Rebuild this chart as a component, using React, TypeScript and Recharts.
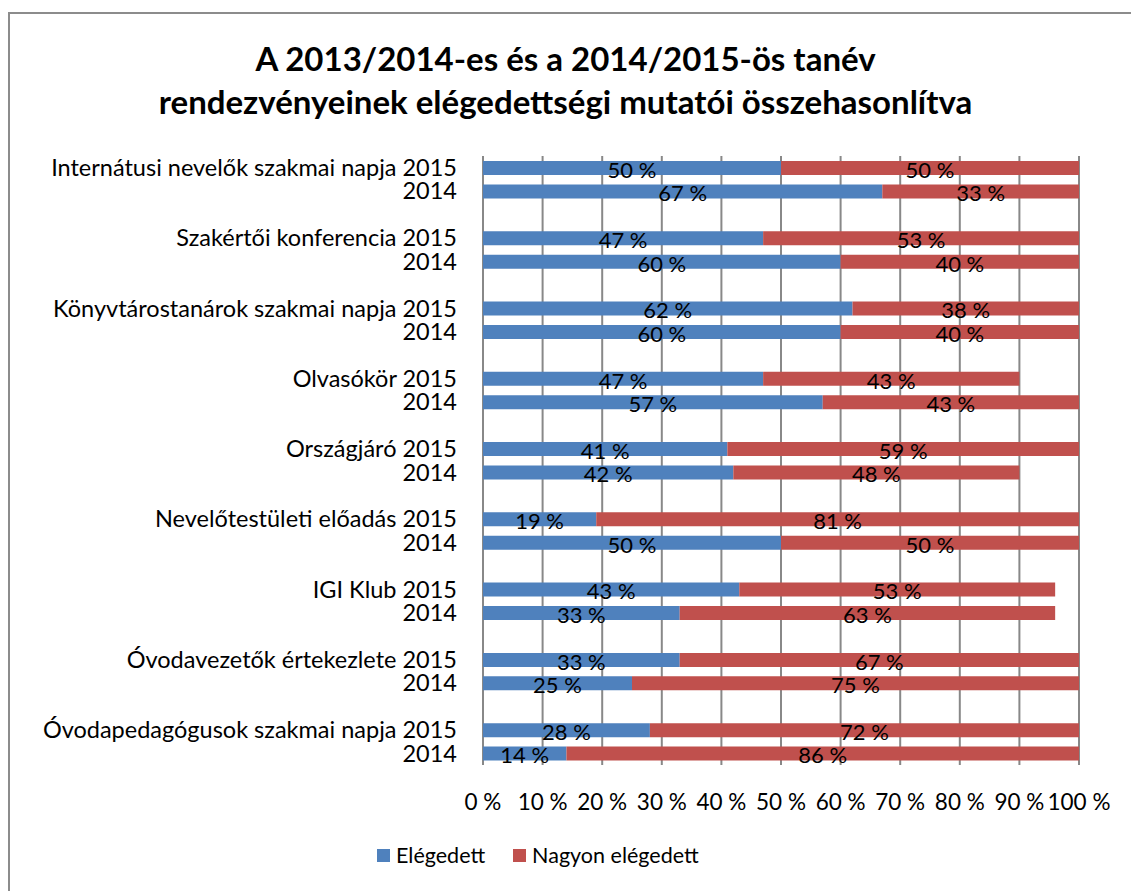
import {
  BarChart,
  Bar,
  XAxis,
  YAxis,
  CartesianGrid,
  LabelList,
} from 'recharts'

const EVENTS = [
  'Internátusi nevelők szakmai napja',
  'Szakértői konferencia',
  'Könyvtárostanárok szakmai napja',
  'Olvasókör',
  'Országjáró',
  'Nevelőtestületi előadás',
  'IGI Klub',
  'Óvodavezetők értekezlete',
  'Óvodapedagógusok szakmai napja',
]

const YEARS = ['2015', '2014']

// one value per event, 2015 and 2014
const SATISFIED_2015 = [50, 47, 62, 47, 41, 19, 43, 33, 28]
const SATISFIED_2014 = [67, 60, 60, 57, 42, 50, 33, 25, 14]
const VERY_SATISFIED_2015 = [50, 53, 38, 43, 59, 81, 53, 67, 72]
const VERY_SATISFIED_2014 = [33, 40, 40, 43, 48, 50, 63, 75, 86]

const X_TICKS = [0, 10, 20, 30, 40, 50, 60, 70, 80, 90, 100]

const BLUE = '#4F81BD'
const RED = '#C0504D'
const GRID = '#888888'
const FONT = 'Lato, "Open Sans", sans-serif'

type Row = {
  key: string
  label: string
  satisfied: number | null
  verySatisfied: number | null
}

const rows: Row[] = []
EVENTS.forEach((name, i) => {
  rows.push({
    key: `${i}-2015`,
    label: `${name} ${YEARS[0]}`,
    satisfied: SATISFIED_2015[i],
    verySatisfied: VERY_SATISFIED_2015[i],
  })
  rows.push({
    key: `${i}-2014`,
    label: YEARS[1],
    satisfied: SATISFIED_2014[i],
    verySatisfied: VERY_SATISFIED_2014[i],
  })
  if (i < EVENTS.length - 1) {
    rows.push({ key: `${i}-gap`, label: '', satisfied: null, verySatisfied: null })
  }
})

const labelOf: Record<string, string> = {}
rows.forEach((r) => (labelOf[r.key] = r.label))

function CategoryTick(props: any) {
  const { x, y, payload } = props
  return (
    <text
      x={x}
      y={y}
      dy="0.355em"
      textAnchor="end"
      fill="#000"
      fontSize={23.5}
      fontFamily={FONT}
    >
      {labelOf[payload.value]}
    </text>
  )
}

const pct = (v: any) => (v == null ? '' : `${v} %`)

export default function App() {
  return (
    <div
      style={{
        position: 'fixed',
        left: 0,
        top: 0,
        width: 1131,
        height: 891,
        background: '#fff',
        overflow: 'hidden',
        fontFamily: FONT,
      }}
    >
      <div
        style={{
          position: 'absolute',
          left: 8,
          top: 12,
          width: 1200,
          height: 1000,
          border: '2px solid #8c8c8c',
        }}
      />
      <div
        style={{
          position: 'absolute',
          left: 0,
          top: 37,
          width: 1131,
          textAlign: 'center',
          fontWeight: 'bold',
          fontSize: 33,
          lineHeight: '43px',
          color: '#000',
        }}
      >
        A 2013/2014-es és a 2014/2015-ös tanév
        <br />
        rendezvényeinek elégedettségi mutatói összehasonlítva
      </div>

      <div style={{ position: 'absolute', left: 0, top: 0 }}>
        <BarChart
          width={1131}
          height={891}
          data={rows}
          layout="vertical"
          margin={{ top: 156, right: 52, bottom: 0, left: 0 }}
        >
          <CartesianGrid horizontal={false} stroke={GRID} strokeWidth={2} />
          <XAxis
            type="number"
            domain={[0, 100]}
            ticks={X_TICKS}
            tickFormatter={pct}
            axisLine={false}
            tickLine={false}
            tickSize={0}
            tickMargin={29}
            height={126}
            interval={0}
            tick={{ fill: '#000', fontSize: 22.5, fontFamily: FONT }}
          />
          <YAxis
            type="category"
            dataKey="key"
            width={483}
            axisLine={false}
            tickLine={false}
            tickSize={0}
            tickMargin={26}
            interval={0}
            tick={<CategoryTick />}
          />
          <Bar
            dataKey="satisfied"
            stackId="a"
            fill={BLUE}
            barSize={14}
            isAnimationActive={false}
          >
            <LabelList
              dataKey="satisfied"
              position="center"
              formatter={pct}
              fill="#000"
              fontSize={22}
              fontFamily={FONT}
              dy={2}
            />
          </Bar>
          <Bar
            dataKey="verySatisfied"
            stackId="a"
            fill={RED}
            barSize={14}
            isAnimationActive={false}
          >
            <LabelList
              dataKey="verySatisfied"
              position="center"
              formatter={pct}
              fill="#000"
              fontSize={22}
              fontFamily={FONT}
              dy={2}
            />
          </Bar>
        </BarChart>
      </div>

      <div
        style={{
          position: 'absolute',
          top: 842,
          left: 377,
          display: 'flex',
          alignItems: 'center',
          fontSize: 21.5,
          color: '#000',
        }}
      >
        <span style={{ width: 13, height: 13, background: BLUE, marginRight: 6 }} />
        <span style={{ marginRight: 28 }}>Elégedett</span>
        <span style={{ width: 13, height: 13, background: RED, marginRight: 6 }} />
        <span>Nagyon elégedett</span>
      </div>
    </div>
  )
}
